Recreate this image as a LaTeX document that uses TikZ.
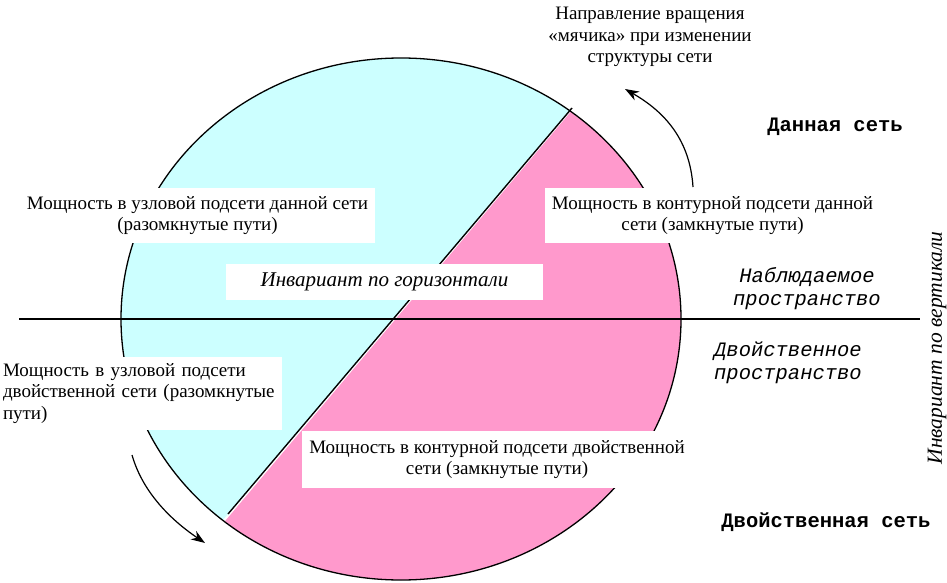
\documentclass[tikz,border=0pt]{standalone}
\usepackage{fontspec}
\setmainfont{Liberation Serif}
\newfontfamily\monof{Liberation Mono}
\usetikzlibrary{arrows.meta}
\definecolor{cyanfill}{RGB}{204,255,255}
\definecolor{pinkfill}{RGB}{255,153,204}
\begin{document}
\begin{tikzpicture}[x=1pt,y=-1pt,
  box/.style={fill=white, inner sep=0pt, align=center, font=\fontsize{19}{21.5}\selectfont},
  plain/.style={inner sep=0pt, align=center, font=\fontsize{19}{21.5}\selectfont},
  mono/.style={inner sep=0pt, align=center, font=\monof\fontsize{20.5}{23}\selectfont},
  rotarrow/.style={-{Stealth[length=14pt,width=10pt]}, line width=1.2pt},
  outline/.style={line width=1.3pt}]
\useasboundingbox (0,0) rectangle (947,583);
% halves of the ellipse
\begin{scope}
  \clip (401,319) ellipse [x radius=280, y radius=261];
  \fill[cyanfill] (674,-14) -- (571,108) -- (228,514) -- (125,636) -- (0,636) -- (0,-14) -- cycle;
  \fill[pinkfill] (677,-14) -- (1000,-14) -- (1000,640) -- (128,636) -- cycle;
\end{scope}
\draw[outline] (401,319) ellipse [x radius=280, y radius=261];
\coordinate (d1) at (572,108);
\coordinate (d2) at (228,514);
\draw[line width=1.4pt] (d1) -- (d2);
% horizontal axis
\coordinate (hl) at (19,319);
\coordinate (hr) at (920,319);
\draw[line width=1.2pt] (hl) -- (hr);
% boxes
\node[box, minimum width=355, minimum height=55] (n1) at (197.5,215.5)
  {Мощность в узловой подсети данной сети\\(разомкнутые пути)};
\node[box, minimum width=317, minimum height=36, font=\itshape\fontsize{21}{23}\selectfont] (inv) at (384.5,282)
  {Инвариант по горизонтали};
\node[box, minimum width=335, minimum height=55] (n3) at (712.5,215.5)
  {Мощность в контурной подсети данной\\сети (замкнутые пути)};
\node[box, minimum height=73, text width=276, inner xsep=3pt, align=left] (n4) at (141,393.5)
  {Мощность в узловой подсети\\двойственной сети (разомкнутые\\пути)};
\node[box, minimum width=390, minimum height=57] (n5) at (497,459.5)
  {Мощность в контурной подсети двойственной\\сети (замкнутые пути)};
% plain texts
\node[plain] (dir) at (650,37) {Направление вращения\\«мячика» при изменении\\структуры сети};
\node[plain, rotate=90, font=\itshape\fontsize{21.5}{23}\selectfont] (vert) at (937,348) {Инвариант по вертикали};
\node[mono, font=\monof\bfseries\fontsize{20.5}{23}\selectfont] (given) at (835,127) {Данная сеть};
\node[mono, font=\monof\bfseries\fontsize{20.5}{23}\selectfont] (dual) at (826,522) {Двойственная сеть};
\node[mono, font=\monof\itshape\fontsize{20.5}{23}\selectfont] (obs) at (807,289) {Наблюдаемое\\пространство};
\node[mono, font=\monof\itshape\fontsize{20.5}{23}\selectfont] (dsp) at (788,363) {Двойственное\\пространство};
% rotation arrows
\coordinate (a1s) at (693,187);
\coordinate (a1e) at (625,89);
\draw[rotarrow] (a1s) .. controls (690,140) and (665,112) .. (a1e);
\coordinate (a2s) at (132,455);
\coordinate (a2e) at (205,543);
\draw[rotarrow] (a2s) .. controls (142,490) and (168,518) .. (a2e);
\end{tikzpicture}
\end{document}
